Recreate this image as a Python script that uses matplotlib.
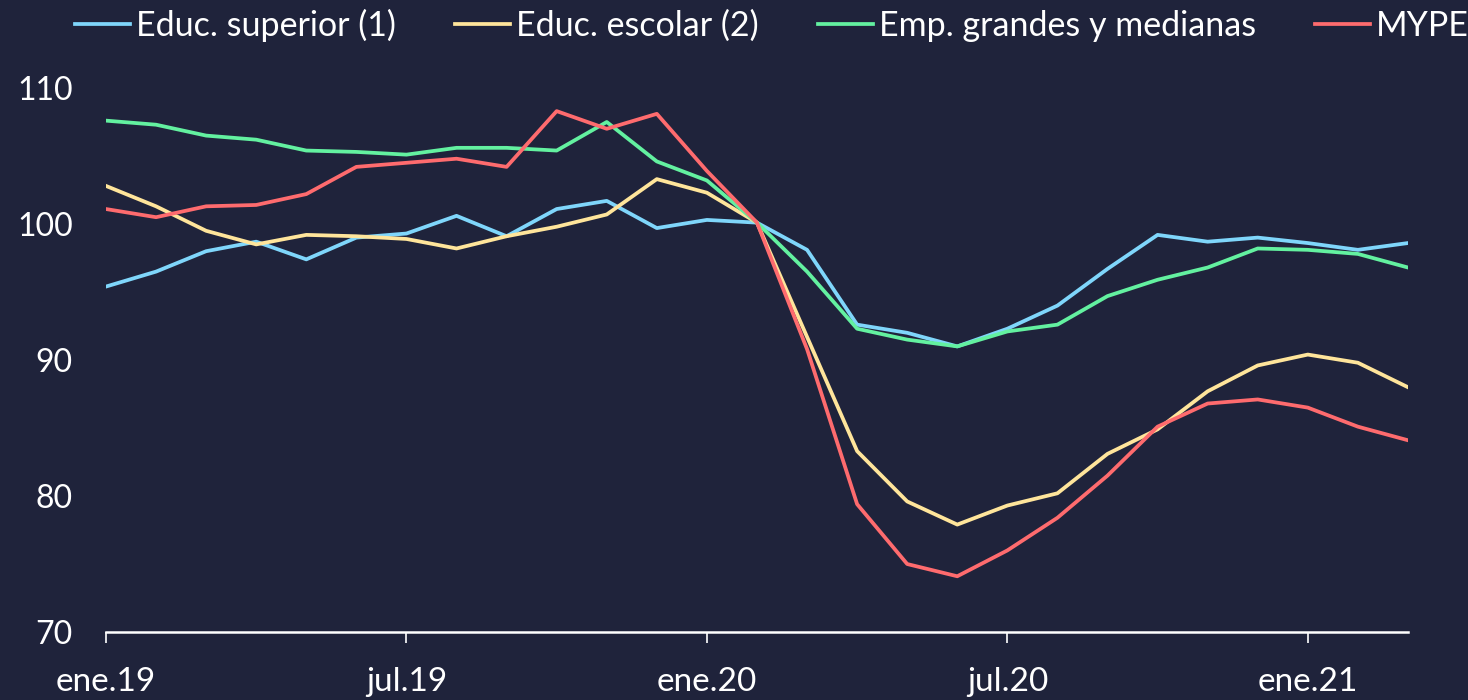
import matplotlib
matplotlib.use("Agg")
import matplotlib.pyplot as plt

# monthly index, ene.19 .. mar.21
months = list(range(27))
tick_pos = [0, 6, 12, 18, 24]
tick_labels = ["ene.19", "jul.19", "ene.20", "jul.20", "ene.21"]

educ_superior = [95.4, 96.5, 98.0, 98.7, 97.4, 99.0, 99.3, 100.6, 99.1, 101.1, 101.7,
                 99.7, 100.3, 100.1, 98.1, 92.6, 92.0, 91.0, 92.3, 94.0, 96.7, 99.2,
                 98.7, 99.0, 98.6, 98.1, 98.6]
educ_escolar = [102.8, 101.3, 99.5, 98.5, 99.2, 99.1, 98.9, 98.2, 99.1, 99.8, 100.7,
                103.3, 102.3, 100.1, 91.7, 83.3, 79.6, 77.9, 79.3, 80.2, 83.1, 84.9,
                87.7, 89.6, 90.4, 89.8, 88.0]
emp_grandes = [107.6, 107.3, 106.5, 106.2, 105.4, 105.3, 105.1, 105.6, 105.6, 105.4, 107.5,
               104.6, 103.2, 100.1, 96.5, 92.3, 91.5, 91.0, 92.1, 92.6, 94.7, 95.9,
               96.8, 98.2, 98.1, 97.8, 96.8]
mype = [101.1, 100.5, 101.3, 101.4, 102.2, 104.2, 104.5, 104.8, 104.2, 108.3, 107.0,
        108.1, 103.9, 100.1, 90.8, 79.4, 75.0, 74.1, 76.0, 78.4, 81.5, 85.1,
        86.8, 87.1, 86.5, 85.1, 84.1]

series = [
    ("Educ. superior (1)", educ_superior, "#7fd6fb"),
    ("Educ. escolar (2)", educ_escolar, "#ffe59b"),
    ("Emp. grandes y medianas", emp_grandes, "#63f1a0"),
    ("MYPE", mype, "#fe6b6e"),
]

bg = "#1f233b"
plt.rcParams["font.family"] = ["Lato", "DejaVu Sans"]

fig = plt.figure(figsize=(14.68, 7), dpi=100, facecolor=bg)
ax = fig.add_axes([0.0722, 0.0971, 0.8869, 0.7772], facecolor=bg)

for name, vals, col in series:
    ax.plot(months, vals, color=col, lw=2.7, label=name)

ax.set_xlim(0, 26)
ax.set_ylim(70, 110)
ax.set_yticks([70, 80, 90, 100, 110])
ax.set_xticks(tick_pos)
ax.set_xticklabels(tick_labels)

for s in ["top", "right", "left"]:
    ax.spines[s].set_visible(False)
ax.spines["bottom"].set_color("white")
ax.spines["bottom"].set_linewidth(1.8)
ax.tick_params(axis="x", colors="white", length=8, width=1.2, pad=17, labelsize=24)
ax.tick_params(axis="y", colors="white", length=0, pad=24, labelsize=23)

fig.legend(loc="center", bbox_to_anchor=(0.526, 0.964), ncol=4, frameon=False,
           fontsize=24.5, labelcolor="white", handlelength=1.6, handletextpad=0.18,
           columnspacing=1.75)

fig.savefig("out.png", dpi=100, facecolor=bg)
